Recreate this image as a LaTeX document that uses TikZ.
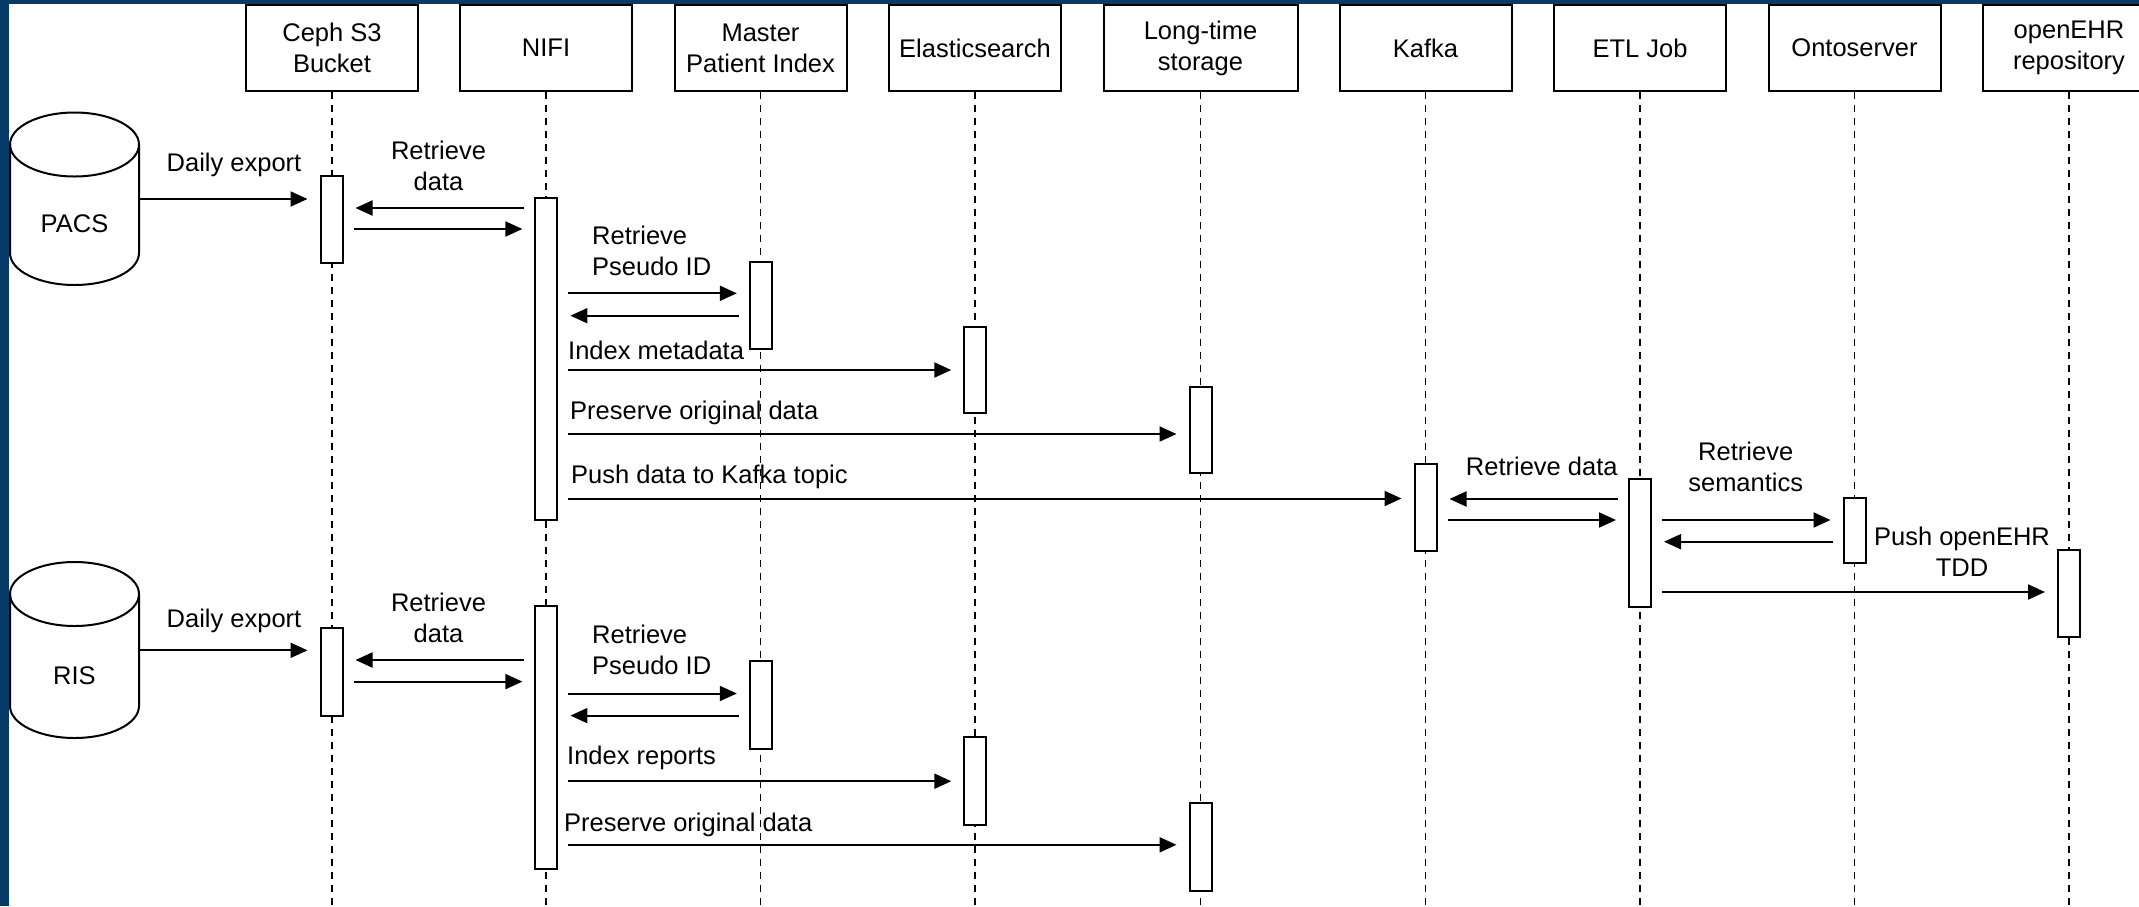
\documentclass[tikz,border=0pt]{standalone}
\usepackage{fontspec}
\setmainfont{Liberation Sans}
\usetikzlibrary{arrows.meta,calc}
\definecolor{navy}{HTML}{063A67}
\begin{document}
\begin{tikzpicture}[x=1pt,y=-1pt,
  every node/.style={font=\fontsize{25.5}{31}\selectfont},
  head/.style={draw, line width=2pt, minimum height=86pt, minimum width=172pt, inner sep=0pt, align=center, fill=white},
  actbar/.style={draw, line width=2pt, fill=white, minimum width=22pt, inner sep=0pt},
  life/.style={line width=1.8pt, dash pattern=on 7pt off 6pt},
  msg/.style={line width=2pt, -{Triangle[length=17pt,width=15pt]}, shorten <=10pt, shorten >=12pt},
  lbl/.style={inner sep=0pt, align=center},
  lbll/.style={inner sep=0pt, anchor=west},
  cyl/.style={draw, line width=2pt, fill=white},
]
\useasboundingbox (0,0) rectangle (2139,906);
\fill[navy] (0,0) rectangle (2139,906);
\fill[white] (9,4) rectangle (2139,906);
\begin{scope}
\clip (9,4) rectangle (2139,906);
\coordinate (bot) at (0,906);

% participants
\node[head] (ceph) at (332,48) {Ceph S3\\Bucket};
\node[head] (nifi) at (546,48) {NIFI};
\node[head] (mpi) at (760.5,48) {Master\\Patient Index};
\node[head] (es) at (975,48) {Elasticsearch};
\node[head, minimum width=194pt] (lts) at (1200.5,48) {Long-time\\storage};
\node[head] (kafka) at (1425.5,48) {Kafka};
\node[head] (etl) at (1640,48) {ETL Job};
\node[head] (onto) at (1854.5,48) {Ontoserver};
\node[head] (ehr) at (2069,48) {openEHR\\repository};

% lifelines
\foreach \p in {ceph,nifi,mpi,es,lts,kafka,etl,onto,ehr}
  \draw[life] (\p.south) -- (\p.south |- bot);

% cylinders
\draw[cyl] (10,144.5) -- (10,253) arc[start angle=180,end angle=360,x radius=64.5pt,y radius=32pt]
  -- (139,144.5) arc[start angle=0,end angle=180,x radius=64.5pt,y radius=32pt] -- cycle;
\draw[line width=2pt] (10,144.5) arc[start angle=180,end angle=360,x radius=64.5pt,y radius=32pt];
\node[minimum width=129pt, minimum height=173pt, inner sep=0pt] (pacs) at (74.5,198.5) {};
\node[lbl] (pacst) at (74.5,224) {PACS};

\draw[cyl] (10,594) -- (10,706) arc[start angle=180,end angle=360,x radius=64.5pt,y radius=32pt]
  -- (139,594) arc[start angle=0,end angle=180,x radius=64.5pt,y radius=32pt] -- cycle;
\draw[line width=2pt] (10,594) arc[start angle=180,end angle=360,x radius=64.5pt,y radius=32pt];
\node[minimum width=129pt, minimum height=176pt, inner sep=0pt] (ris) at (74.5,650) {};
\node[lbl] (rist) at (74.5,676) {RIS};

% activation bars
\node[actbar, minimum height=87pt] (ceph1) at (331.5,219.5) {};
\node[actbar, minimum height=322pt] (nifi1) at (546.4,359) {};
\node[actbar, minimum height=86.4pt] (mpi1) at (760.8,305.5) {};
\node[actbar, minimum height=86.6pt] (es1) at (975.3,370) {};
\node[actbar, minimum height=86.6pt] (lts1) at (1200.5,430) {};
\node[actbar, minimum height=86.7pt] (kafka1) at (1425.5,507.3) {};
\node[actbar, minimum height=127.7pt] (etl1) at (1640,542.8) {};
\node[actbar, minimum height=65pt] (onto1) at (1854.5,530.5) {};
\node[actbar, minimum height=86.7pt] (ehr1) at (2069,593.3) {};
\node[actbar, minimum height=87.6pt] (ceph2) at (331.5,671.8) {};
\node[actbar, minimum height=263pt] (nifi2) at (546.4,737.5) {};
\node[actbar, minimum height=88pt] (mpi2) at (760.8,704.5) {};
\node[actbar, minimum height=88.4pt] (es2) at (975.3,781.2) {};
\node[actbar, minimum height=88.4pt] (lts2) at (1200.5,847.2) {};

% messages, first flow
\draw[msg, shorten <=0pt] (pacs.east |- 0,199) -- (ceph1.west |- 0,199);
\node[lbl] (l1) at (234,165) {Daily export};
\draw[msg] (nifi1.west |- 0,208) -- (ceph1.east |- 0,208);
\draw[msg] (ceph1.east |- 0,229) -- (nifi1.west |- 0,229);
\node[lbl] (l2) at (438.5,166) {Retrieve\\data};
\draw[msg] (nifi1.east |- 0,293.3) -- (mpi1.west |- 0,293.3);
\draw[msg] (mpi1.west |- 0,315.7) -- (nifi1.east |- 0,315.7);
\node[lbl, anchor=west, align=left] (l3) at (592,251) {Retrieve\\Pseudo ID};
\draw[msg] (nifi1.east |- 0,370) -- (es1.west |- 0,370);
\node[lbll] (l4) at (568,350) {Index metadata};
\draw[msg] (nifi1.east |- 0,434) -- (lts1.west |- 0,434);
\node[lbll] (l5) at (570,413) {Preserve original data};
\draw[msg] (nifi1.east |- 0,498.5) -- (kafka1.west |- 0,498.5);
\node[lbll] (l6) at (571,477) {Push data to Kafka topic};
\draw[msg] (etl1.west |- 0,499) -- (kafka1.east |- 0,499);
\draw[msg] (kafka1.east |- 0,520) -- (etl1.west |- 0,520);
\node[lbl] (l7) at (1541.8,466) {Retrieve data};
\draw[msg] (etl1.east |- 0,520) -- (onto1.west |- 0,520);
\draw[msg] (onto1.west |- 0,541.7) -- (etl1.east |- 0,541.7);
\node[lbl] (l8) at (1745.7,467) {Retrieve\\semantics};
\draw[msg] (etl1.east |- 0,592) -- (ehr1.west |- 0,592);
\node[lbl] (l9) at (1962,552) {Push openEHR\\TDD};

% messages, second flow
\draw[msg, shorten <=0pt] (ris.east |- 0,650.3) -- (ceph2.west |- 0,650.3);
\node[lbl] (l10) at (234,620.4) {Daily export};
\draw[msg] (nifi2.west |- 0,660) -- (ceph2.east |- 0,660);
\draw[msg] (ceph2.east |- 0,681.6) -- (nifi2.west |- 0,681.6);
\node[lbl] (l11) at (438.5,617.5) {Retrieve\\data};
\draw[msg] (nifi2.east |- 0,693.5) -- (mpi2.west |- 0,693.5);
\draw[msg] (mpi2.west |- 0,715.6) -- (nifi2.east |- 0,715.6);
\node[lbl, anchor=west, align=left] (l12) at (592,649.5) {Retrieve\\Pseudo ID};
\draw[msg] (nifi2.east |- 0,781.2) -- (es2.west |- 0,781.2);
\node[lbll] (l13) at (567,758) {Index reports};
\draw[msg] (nifi2.east |- 0,844.8) -- (lts2.west |- 0,844.8);
\node[lbll] (l14) at (564,825) {Preserve original data};
\end{scope}
\end{tikzpicture}
\end{document}
